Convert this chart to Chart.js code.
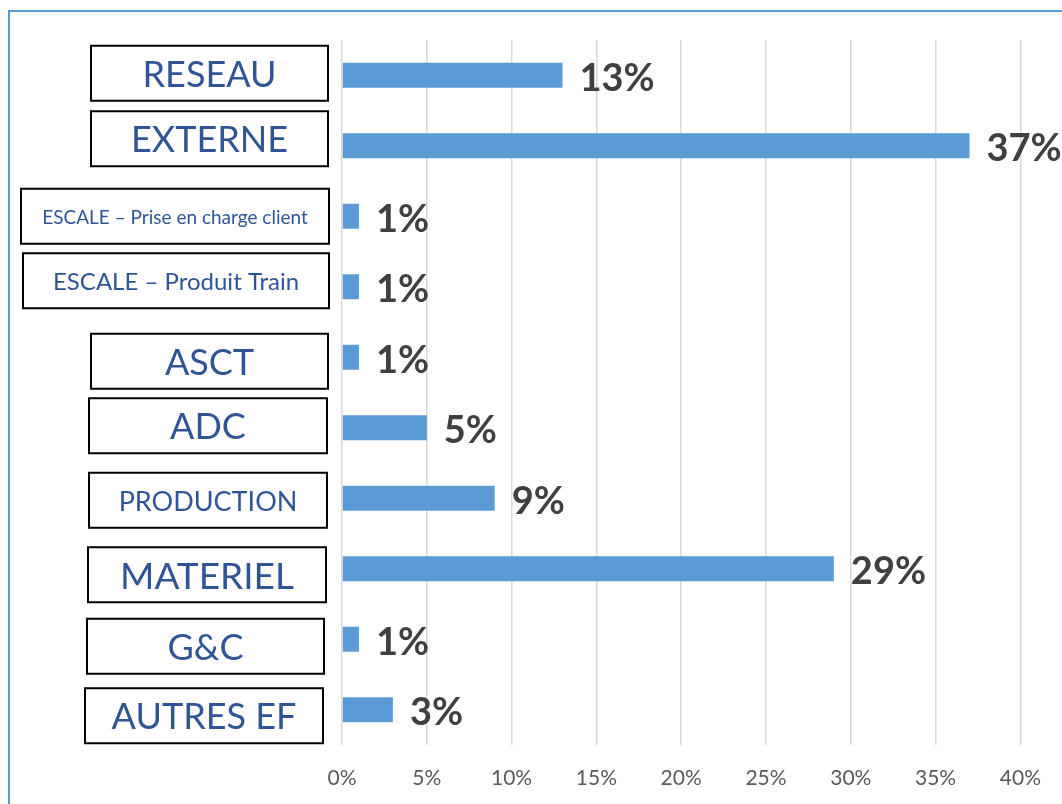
<!DOCTYPE html>
<html>
<head>
<meta charset="utf-8">
<script src="https://cdn.jsdelivr.net/npm/chart.js@4/dist/chart.umd.min.js"></script>
<style>
    body { margin: 0; background: #fff; }
    #wrap { position: relative; width: 1062px; height: 804px; }
</style>
</head>
<body>
<div id="wrap"><canvas id="barChart" width="1062" height="804"></canvas></div>
<script>
// Chart data
const categories = [
    'RESEAU', 'EXTERNE', 'ESCALE \u2013 Prise en charge client', 'ESCALE \u2013 Produit Train',
    'ASCT', 'ADC', 'PRODUCTION', 'MATERIEL', 'G&C', 'AUTRES EF'
];
const shares = [13, 37, 1, 1, 1, 5, 9, 29, 1, 3];
const tickValues = [0, 5, 10, 15, 20, 25, 30, 35, 40];

// Look of the boxed category labels (font size, box left/right edge, vertical nudge)
const labelFontSizes = [36, 36, 19, 24, 36, 36, 27, 37, 36, 36];
const boxLeft = [91, 91, 21, 23, 91, 89, 89, 88, 87, 85];
const boxRight = [328, 328, 329, 329, 328, 327, 327, 326, 324, 323];
const boxNudge = [-2, -7, 0, -6, 4, -2, 2, 6, 7, 6];

// Outer frame (top + left edge only, the rest is cropped)
const framePlugin = {
    id: 'frame',
    beforeDraw(chart) {
        const ctx = chart.ctx;
        ctx.save();
        ctx.strokeStyle = '#5B9BD5';
        ctx.lineWidth = 2;
        ctx.beginPath();
        ctx.moveTo(9, 810);
        ctx.lineTo(9, 11);
        ctx.lineTo(1070, 11);
        ctx.stroke();
        ctx.restore();
    }
};

// Boxed labels on the left side
const boxLabelsPlugin = {
    id: 'boxLabels',
    afterDraw(chart) {
        const ctx = chart.ctx;
        const y = chart.scales.y;
        ctx.save();
        categories.forEach((label, i) => {
            const cy = y.getPixelForValue(i) + boxNudge[i];
            const h = 55;
            ctx.strokeStyle = '#000';
            ctx.lineWidth = 2;
            ctx.strokeRect(boxLeft[i], cy - h / 2, boxRight[i] - boxLeft[i], h);
            ctx.fillStyle = '#2F5597';
            ctx.font = labelFontSizes[i] + 'px Lato';
            ctx.textAlign = 'center';
            ctx.textBaseline = 'middle';
            ctx.fillText(label, (boxLeft[i] + boxRight[i]) / 2, cy + 2);
        });
        ctx.restore();
    }
};

// Value labels at the end of each bar
const valueLabelsPlugin = {
    id: 'valueLabels',
    afterDatasetsDraw(chart) {
        const ctx = chart.ctx;
        const meta = chart.getDatasetMeta(0);
        ctx.save();
        ctx.fillStyle = '#404040';
        ctx.font = 'bold 38px Lato';
        ctx.textAlign = 'left';
        ctx.textBaseline = 'middle';
        meta.data.forEach((bar, i) => {
            ctx.fillText(shares[i] + '%', bar.x + 17, bar.y + 3);
        });
        ctx.restore();
    }
};

const ctx = document.getElementById('barChart').getContext('2d');
new Chart(ctx, {
    type: 'bar',
    data: {
        labels: categories,
        datasets: [{
            data: shares,
            backgroundColor: '#5B9BD5',
            borderWidth: 0,
            categoryPercentage: 1,
            barPercentage: 0.355
        }]
    },
    options: {
        indexAxis: 'y',
        responsive: false,
        animation: false,
        layout: { padding: { left: 342, right: 40, top: 40, bottom: 0 } },
        scales: {
            x: {
                min: 0,
                max: 40,
                afterBuildTicks: scale => {
                    scale.ticks = tickValues.map(v => ({ value: v }));
                },
                afterFit: scale => { scale.height = 59; },
                grid: { color: '#D9D9D9', lineWidth: 1.5, drawTicks: false },
                border: { display: false },
                ticks: {
                    padding: 21,
                    color: '#595959',
                    font: { family: 'Lato', size: 21 },
                    callback: value => value + '%'
                }
            },
            y: { display: false }
        },
        plugins: {
            legend: { display: false },
            tooltip: { enabled: false }
        }
    },
    plugins: [framePlugin, boxLabelsPlugin, valueLabelsPlugin]
});
</script>
</body>
</html>
